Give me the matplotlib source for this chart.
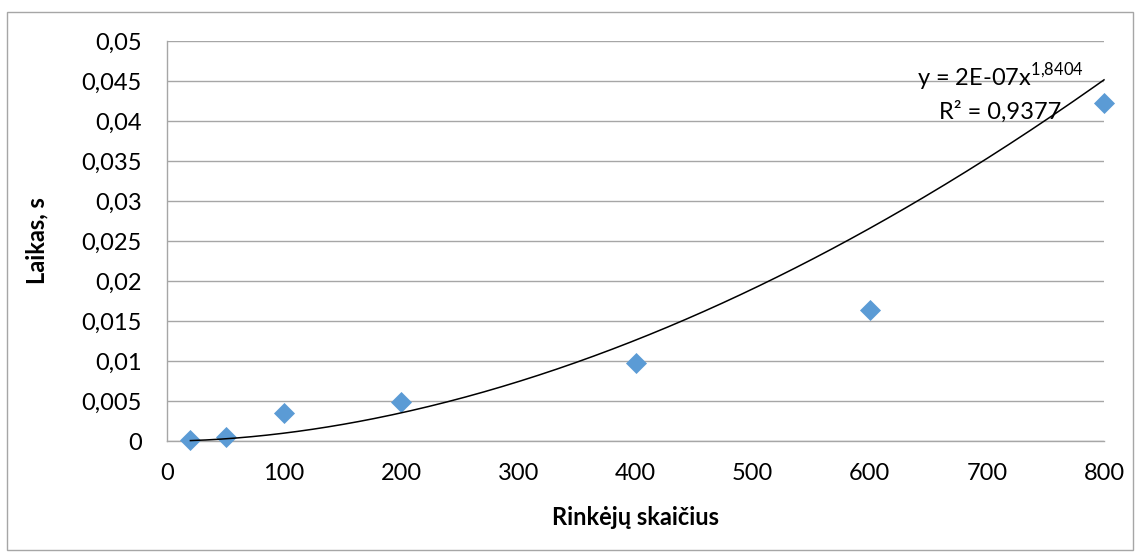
import numpy as np
import matplotlib
matplotlib.use("Agg")
import matplotlib.pyplot as plt
from matplotlib.patches import Rectangle
from matplotlib.ticker import FuncFormatter

# measured points
rinkejai = [20, 50, 100, 200, 400, 600, 800]
laikas = [0.0001, 0.00045, 0.0035, 0.0049, 0.0098, 0.0164, 0.04225]

# power trendline as shown on chart
trend_a = 2.05e-7
trend_b = 1.8404
trend_label = r"y = 2E-07x$^{\mathregular{1{,}8404}}$"
r2_label = "R² = 0,9377"

x_ticks = [0, 100, 200, 300, 400, 500, 600, 700, 800]
y_ticks = [0, 0.005, 0.01, 0.015, 0.02, 0.025, 0.03, 0.035, 0.04, 0.045, 0.05]

plt.rcParams["font.family"] = ["Lato", "DejaVu Sans"]
plt.rcParams["mathtext.fontset"] = "custom"
plt.rcParams["mathtext.rm"] = "Lato"

fig = plt.figure(figsize=(11.4, 5.56), dpi=100)
ax = fig.add_axes([167 / 1140, 1 - 441 / 556, 937 / 1140, 400 / 556])

# outer chart frame
fig.patches.append(Rectangle((7 / 1140, 1 - 550 / 556), 1126 / 1140, 538 / 556,
                             transform=fig.transFigure, fill=False,
                             edgecolor="#A6A6A6", linewidth=1.0))

ax.scatter(rinkejai, laikas, marker="D", s=115, color="#5B9BD5", zorder=3,
           linewidths=0, clip_on=False)

xs = np.linspace(min(rinkejai), max(rinkejai), 300)
ax.plot(xs, trend_a * xs ** trend_b, color="black", linewidth=1.1, zorder=4,
        clip_on=False)

ax.set_xlim(0, 800)
ax.set_ylim(0, 0.05)
ax.set_xticks(x_ticks)
ax.set_yticks(y_ticks)


def comma_fmt(v, pos):
    s = ("%.3f" % v).rstrip("0").rstrip(".")
    return s.replace(".", ",")


ax.yaxis.set_major_formatter(FuncFormatter(comma_fmt))
ax.xaxis.set_major_formatter(FuncFormatter(lambda v, p: "%d" % v))

ax.grid(axis="y", color="#A6A6A6", linewidth=1.0)
ax.set_axisbelow(True)
for side in ["top", "right"]:
    ax.spines[side].set_visible(False)
for side in ["left", "bottom"]:
    ax.spines[side].set_color("#A6A6A6")
    ax.spines[side].set_linewidth(1.0)

ax.tick_params(axis="both", length=0, labelsize=17, colors="black")
ax.tick_params(axis="y", pad=18)
ax.tick_params(axis="x", pad=16)

ax.set_xlabel("Rinkėjų skaičius", fontsize=17, fontweight="bold", labelpad=16)
ax.set_ylabel("Laikas, s", fontsize=17, fontweight="bold", labelpad=24)

ax.text(0.889, 0.91, trend_label, transform=ax.transAxes, fontsize=17,
        ha="center", va="center")
ax.text(0.889, 0.8225, r2_label, transform=ax.transAxes, fontsize=17,
        ha="center", va="center")

fig.savefig("out.png", dpi=100)
